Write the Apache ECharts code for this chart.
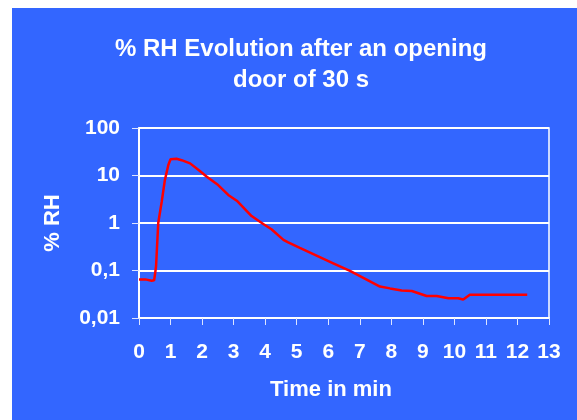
<!DOCTYPE html>
<html>
<head>
<meta charset="utf-8">
<script src="https://cdn.jsdelivr.net/npm/echarts@6/dist/echarts.min.js"></script>
<style>
  body { margin: 0; background: #fff; }
  #chart { position: absolute; left: 12px; top: 8px; width: 565px; height: 412px; background: #3366FF; }
</style>
</head>
<body>
<div id="chart"></div>
<script>
// time in minutes and %RH
var time_min = [0, 0.2, 0.4, 0.48, 0.54, 0.61, 0.72, 0.82, 0.93, 1.0, 1.19, 1.35, 1.62, 1.93, 2.15, 2.51, 2.83, 3.1,
    3.57, 3.94, 4.2, 4.58, 4.73, 5.1, 6.16, 6.69, 7.64, 7.96, 8.33, 8.65, 9.12, 9.44, 9.81, 10.12, 10.28, 10.49, 12.31];
var rh_values = [0.065, 0.065, 0.061, 0.062, 0.12, 1, 2.8, 8, 16.6, 22, 22.5, 21, 18, 12.4, 9.4, 6.3, 3.9, 2.95,
    1.4, 0.95, 0.74, 0.44, 0.39, 0.30, 0.142, 0.098, 0.046, 0.042, 0.038, 0.037, 0.029, 0.029, 0.026, 0.026, 0.0245, 0.031, 0.031];

var chart_title = '% RH Evolution after an opening\ndoor of 30 s';
var x_name = 'Time in min';
var y_name = '% RH';

var series_data = [];
for (var i = 0; i < time_min.length; i++) {
    series_data.push([time_min[i], rh_values[i]]);
}

var font = 'Liberation Sans, Arial, sans-serif';

var myChart = echarts.init(document.getElementById('chart'));
var option = {
    animation: false,
    title: {
        text: chart_title,
        left: 284,
        top: 21,
        textAlign: 'center',
        textStyle: {
            color: '#fff',
            fontFamily: font,
            fontWeight: 'bold',
            fontSize: 24,
            lineHeight: 31
        }
    },
    grid: {
        left: 127,
        right: 28,
        top: 120,
        bottom: 102,
        show: true,
        borderColor: '#fff',
        borderWidth: 1.5
    },
    xAxis: {
        type: 'value',
        min: 0,
        max: 13,
        interval: 1,
        name: x_name,
        nameLocation: 'middle',
        nameGap: 61,
        nameTextStyle: {
            color: '#fff',
            fontFamily: font,
            fontWeight: 'bold',
            fontSize: 22,
            padding: [0, 26, 0, 0]
        },
        axisLine: { lineStyle: { color: '#fff', width: 2 } },
        axisTick: { length: 7, lineStyle: { color: '#dde4ff', width: 1 } },
        axisLabel: {
            color: '#fff',
            fontFamily: font,
            fontWeight: 'bold',
            fontSize: 21,
            margin: 24
        },
        splitLine: { show: false }
    },
    yAxis: {
        type: 'log',
        logBase: 10,
        min: 0.01,
        max: 100,
        name: y_name,
        nameLocation: 'middle',
        nameGap: 75,
        nameTextStyle: {
            color: '#fff',
            fontFamily: font,
            fontWeight: 'bold',
            fontSize: 22
        },
        axisLine: { show: true, lineStyle: { color: '#fff', width: 2 } },
        axisTick: { show: true, length: 7, lineStyle: { color: '#dde4ff', width: 1 } },
        axisLabel: {
            color: '#fff',
            fontFamily: font,
            fontWeight: 'bold',
            fontSize: 21,
            margin: 19,
            formatter: function (v) {
                return String(v).replace('.', ',');
            }
        },
        splitLine: { lineStyle: { color: '#fff', width: 2 } }
    },
    series: [{
        type: 'line',
        data: series_data,
        showSymbol: false,
        lineStyle: { color: '#ff0000', width: 2.5 }
    }]
};
myChart.setOption(option);
</script>
</body>
</html>
